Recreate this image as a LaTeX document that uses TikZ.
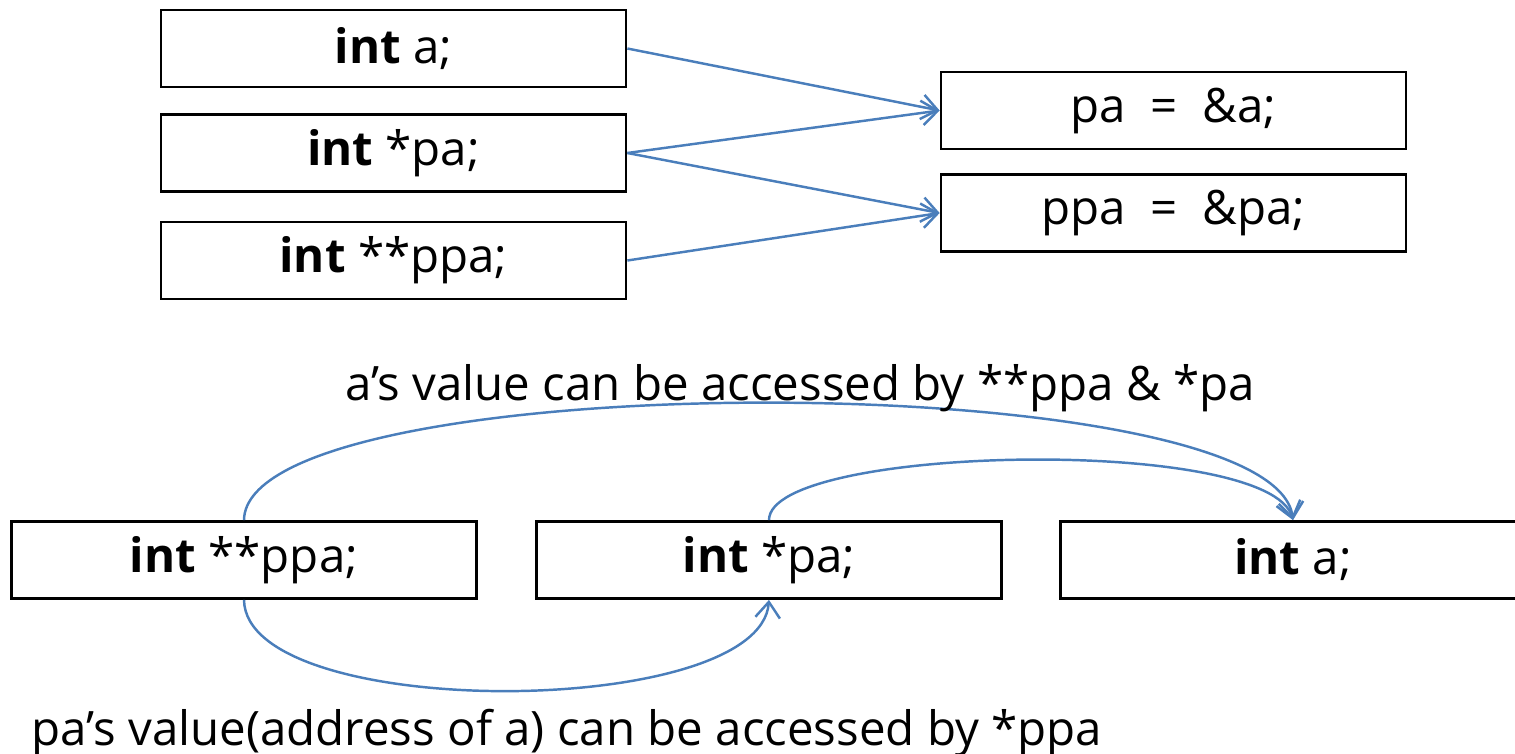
\documentclass[tikz,border=0pt]{standalone}
\usepackage{fontspec}
\setmainfont{Open Sans}
\usetikzlibrary{arrows.meta}
\definecolor{lnblue}{RGB}{74,126,187}
\begin{document}
\begin{tikzpicture}[x=0.02cm,y=-0.02cm,
  box/.style={draw=black,line width=1.6pt,minimum width=9.3cm,minimum height=1.54cm,inner sep=0pt,font=\fontsize{27}{32}\selectfont},
  link/.style={draw=lnblue,line width=1.4pt,-{Straight Barb[length=9pt,width=14pt,line width=1.4pt]}},
  lbl/.style={font=\fontsize{27}{32}\selectfont,anchor=base,inner sep=0pt}]
\useasboundingbox (0,0) rectangle (1515,754);
% top group
\node[box] (A1) at (393.5,48.5) {\textbf{int} a;};
\node[box] (A2) at (393.5,153) {\textbf{int} *pa;};
\node[box] (A3) at (393.5,260.5) {\textbf{int} **ppa;};
\node[box] (B1) at (1173.5,110.5) {pa\ \ =\ \ \&a;};
\node[box] (B2) at (1173.5,213) {ppa\ \ =\ \ \&pa;};
\draw[link] (A1.east) -- (B1.west);
\draw[link] (A2.east) -- (B1.west);
\draw[link] (A2.east) -- (B2.west);
\draw[link] (A3.east) -- (B2.west);
% bottom group
\node[box] (C1) at (244,560) {\textbf{int} **ppa;};
\node[box] (C2) at (769,560) {\textbf{int} *pa;};
\node[box] (C3) at (1293,560) {\textbf{int} a;};
\draw[link] (C1.north) .. controls (246,364) and (1275,364) .. (C3.north);
\draw[link] (C2.north) .. controls (769,445) and (1270,435) .. (C3.north);
\draw[link] (C1.south) .. controls (246,722) and (760,720) .. (C2.south);
\node[lbl] (T1) at (800,400) {a’s value can be accessed by **ppa \& *pa};
\node[lbl] (T2) at (567,745) {pa’s value(address of a) can be accessed by *ppa};
\end{tikzpicture}
\end{document}
